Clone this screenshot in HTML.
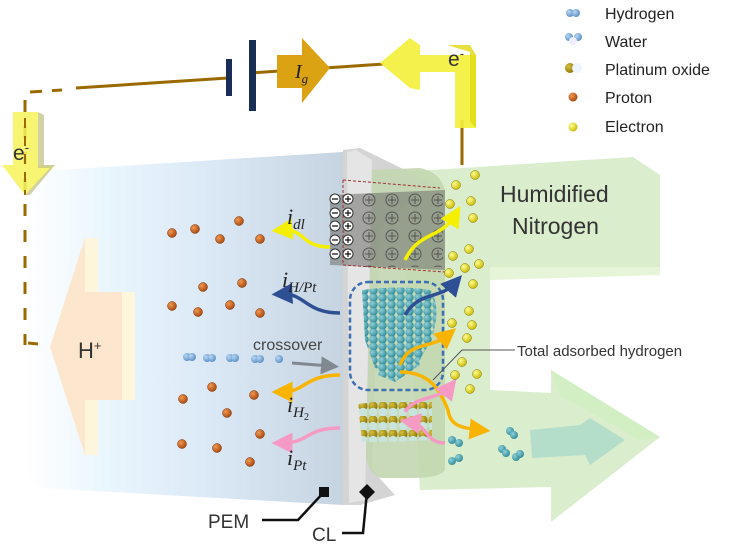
<!DOCTYPE html>
<html><head><meta charset="utf-8"><style>
html,body{margin:0;padding:0;background:#fff;}
svg{display:block;font-family:"Liberation Sans",sans-serif;}
</style></head><body>
<svg width="736" height="545" viewBox="0 0 736 545" xmlns="http://www.w3.org/2000/svg">
<defs>
<linearGradient id="pem" x1="0" x2="1" y1="0" y2="0">
<stop offset="0" stop-color="#ffffff"/><stop offset="0.25" stop-color="#eaf6fd"/><stop offset="0.6" stop-color="#dae8f6"/><stop offset="1" stop-color="#c6d3e0"/></linearGradient>
<radialGradient id="pr" cx="0.35" cy="0.35" r="0.7"><stop offset="0" stop-color="#f09a50"/><stop offset="1" stop-color="#a8450e"/></radialGradient>
<radialGradient id="el" cx="0.35" cy="0.35" r="0.7"><stop offset="0" stop-color="#ffff90"/><stop offset="1" stop-color="#c8b800"/></radialGradient>
<radialGradient id="tl" cx="0.35" cy="0.35" r="0.7"><stop offset="0" stop-color="#8fd0d8"/><stop offset="1" stop-color="#2f8a98"/></radialGradient>
<radialGradient id="bl" cx="0.35" cy="0.35" r="0.7"><stop offset="0" stop-color="#b8d8f4"/><stop offset="1" stop-color="#5a8ec4"/></radialGradient>
<radialGradient id="au" cx="0.35" cy="0.35" r="0.7"><stop offset="0" stop-color="#d8c040"/><stop offset="1" stop-color="#8a7400"/></radialGradient>
<pattern id="teal" width="9" height="7" patternUnits="userSpaceOnUse">
<circle cx="4.5" cy="3.5" r="4.2" fill="url(#tl)"/></pattern>
<pattern id="ptox" width="10" height="14" patternUnits="userSpaceOnUse" x="358" y="402">
<circle cx="5" cy="4" r="4.6" fill="url(#au)"/><circle cx="5" cy="10" r="4.3" fill="#c8e4dc"/></pattern>
<pattern id="plus" width="23" height="18" patternUnits="userSpaceOnUse" x="358" y="191">
<circle cx="11" cy="9" r="6" fill="none" stroke="#555" stroke-width="1"/><path d="M7 9h8M11 5v8" stroke="#555" stroke-width="1"/></pattern>
<marker id="ay" markerWidth="6" markerHeight="6" refX="3" refY="3" orient="auto" markerUnits="strokeWidth"><path d="M0 0L6 3L0 6Z" fill="#f5f000"/></marker>
<marker id="ab" markerWidth="6" markerHeight="6" refX="3" refY="3" orient="auto" markerUnits="strokeWidth"><path d="M0 0L6 3L0 6Z" fill="#2e4f94"/></marker>
<marker id="ao" markerWidth="6" markerHeight="6" refX="3" refY="3" orient="auto" markerUnits="strokeWidth"><path d="M0 0L6 3L0 6Z" fill="#f8b400"/></marker>
<marker id="ap" markerWidth="6" markerHeight="6" refX="3" refY="3" orient="auto" markerUnits="strokeWidth"><path d="M0 0L6 3L0 6Z" fill="#f59ac4"/></marker>
<marker id="ag" markerWidth="6" markerHeight="6" refX="3" refY="3" orient="auto" markerUnits="strokeWidth"><path d="M0 0L6 3L0 6Z" fill="#808890"/></marker>
</defs>

<polygon points="25,172 343,152 343,505 40,488 25,470" fill="url(#pem)"/>
<polygon points="50,347 85,238 98,238 98,292 135,292 135,400 98,400 98,455 85,455" fill="#fff5d8" opacity="0.9"/>
<polygon points="50,347 85,238 85,292 122,292 122,400 85,400 85,455" fill="#fde4cc" opacity="0.9"/>
<text x="78" y="358" font-size="22" fill="#333">H<tspan font-size="13" dy="-8">+</tspan></text>

<polygon points="400,172 633,157 660,175 660,267 490,272 490,390 551,393 551,370 660,437 551,522 551,487 420,490" fill="#d6ebc8" opacity="0.9"/>
<polygon points="490,267 660,267 660,275 490,280" fill="#e6f4d8"/>
<polygon points="551,370 660,437 640,440 560,395" fill="#cfeec0" opacity="0.8"/>
<polygon points="530,430 580,425 590,418 625,440 590,465 585,455 532,458" fill="#8fd0c8" opacity="0.5"/>

<polygon points="343,150 360,148 395,165 430,182 380,230 372,470 395,495 360,505 343,505" fill="#d4d4d4"/>
<polygon points="347,152 356,150 372,160 365,500 349,503" fill="#e8e8e8" opacity="0.8"/>
<path d="M372,170 L420,168 Q440,172 445,190 L445,470 Q440,478 410,478 L380,478 Q365,470 366,450 Z" fill="#c2d6b0" opacity="0.9"/>

<polygon points="330,195 445,190 445,270 330,265" fill="#6e706a" opacity="0.55"/>
<rect x="358" y="191" width="85" height="76" fill="url(#plus)"/>
<polyline points="343,180 343,265 445,272" fill="none" stroke="#a03030" stroke-width="1" stroke-dasharray="3,2"/>
<polyline points="343,180 440,188" fill="none" stroke="#a03030" stroke-width="1" stroke-dasharray="3,2"/>
<g>
<circle cx="335" cy="199" r="5" fill="#fff" stroke="#333"/><circle cx="348" cy="199" r="5" fill="#fff" stroke="#333"/>
<circle cx="335" cy="213" r="5" fill="#fff" stroke="#333"/><circle cx="348" cy="213" r="5" fill="#fff" stroke="#333"/>
<circle cx="335" cy="226" r="5" fill="#fff" stroke="#333"/><circle cx="348" cy="226" r="5" fill="#fff" stroke="#333"/>
<circle cx="335" cy="240" r="5" fill="#fff" stroke="#333"/><circle cx="348" cy="240" r="5" fill="#fff" stroke="#333"/>
<circle cx="335" cy="254" r="5" fill="#fff" stroke="#333"/><circle cx="348" cy="254" r="5" fill="#fff" stroke="#333"/>
</g>
<g stroke="#111" stroke-width="1.2">
<path d="M332 199h6M332 213h6M332 226h6M332 240h6M332 254h6"/>
<path d="M345 199h6M348 196v6M345 213h6M348 210v6M345 226h6M348 223v6M345 240h6M348 237v6M345 254h6M348 251v6"/>
</g>

<path d="M362,290 Q400,285 430,290 Q438,300 436,320 L432,340 Q425,350 420,360 L400,372 L375,368 L365,340 Z" fill="url(#teal)"/>
<path d="M380,350 L412,345 L420,365 L395,382 L378,375 Z" fill="url(#teal)"/>
<rect x="350" y="282" width="93" height="108" rx="18" fill="none" stroke="#3c6fb4" stroke-width="2.5" stroke-dasharray="5,3"/>
<path d="M358,404 Q400,398 432,402 L432,440 Q400,442 362,442 Z" fill="url(#ptox)"/>

<path d="M330,247 C300,247 305,228 282,230" fill="none" stroke="#f5f000" stroke-width="3.5" marker-end="url(#ay)"/>
<path d="M405,260 C420,230 440,240 455,215" fill="none" stroke="#f5f000" stroke-width="3.5" marker-end="url(#ay)"/>
<path d="M340,313 C305,313 305,293 282,294" fill="none" stroke="#2e4f94" stroke-width="3.5" marker-end="url(#ab)"/>
<path d="M405,315 C420,290 440,300 455,283" fill="none" stroke="#2e4f94" stroke-width="3.5" marker-end="url(#ab)"/>
<path d="M292,363 L330,366" fill="none" stroke="#808890" stroke-width="3" marker-end="url(#ag)"/>
<path d="M340,375 C305,375 305,392 282,392" fill="none" stroke="#f8b400" stroke-width="3.5" marker-end="url(#ao)"/>
<path d="M400,365 C410,340 430,350 448,335" fill="none" stroke="#f8b400" stroke-width="3.5" marker-end="url(#ao)"/>
<path d="M400,372 C430,372 440,390 448,410 C450,425 460,428 480,430" fill="none" stroke="#f8b400" stroke-width="3.5" marker-end="url(#ao)"/>
<path d="M340,428 C305,428 310,443 282,443" fill="none" stroke="#f59ac4" stroke-width="3.5" marker-end="url(#ap)"/>
<path d="M405,412 C415,395 440,400 450,387" fill="none" stroke="#f59ac4" stroke-width="3.5" marker-end="url(#ap)"/>
<path d="M445,443 C425,443 428,425 410,422" fill="none" stroke="#f59ac4" stroke-width="3.5" marker-end="url(#ap)"/>

<g font-family="'Liberation Serif',serif" font-style="italic" fill="#222">
<text x="287" y="224" font-size="22">i<tspan font-size="15" dy="5">dl</tspan></text>
<text x="282" y="287" font-size="22">i<tspan font-size="15" dy="5">H/Pt</tspan></text>
<text x="287" y="412" font-size="22">i<tspan font-size="15" dy="5">H</tspan><tspan font-size="10" dy="3" font-style="normal">2</tspan></text>
<text x="287" y="465" font-size="22">i<tspan font-size="15" dy="5">Pt</tspan></text>
</g>
<text x="253" y="350" font-size="16" fill="#444">crossover</text>

<g fill="url(#bl)">
<circle cx="187" cy="357" r="4"/><circle cx="192" cy="357" r="4"/>
<circle cx="207" cy="358" r="4"/><circle cx="212" cy="358" r="4"/>
<circle cx="230" cy="358" r="4"/><circle cx="235" cy="358" r="4"/>
<circle cx="255" cy="359" r="4"/><circle cx="260" cy="359" r="4"/>
<circle cx="279" cy="359" r="4"/>
</g>

<g fill="url(#pr)" stroke="#7a3000" stroke-width="0.5">
<circle cx="172" cy="233" r="4.5"/><circle cx="195" cy="229" r="4.5"/><circle cx="239" cy="221" r="4.5"/><circle cx="220" cy="239" r="4.5"/><circle cx="260" cy="239" r="4.5"/>
<circle cx="203" cy="287" r="4.5"/><circle cx="242" cy="283" r="4.5"/><circle cx="172" cy="306" r="4.5"/><circle cx="198" cy="312" r="4.5"/><circle cx="230" cy="305" r="4.5"/><circle cx="260" cy="313" r="4.5"/>
<circle cx="212" cy="387" r="4.5"/><circle cx="183" cy="399" r="4.5"/><circle cx="254" cy="395" r="4.5"/><circle cx="227" cy="413" r="4.5"/>
<circle cx="260" cy="434" r="4.5"/><circle cx="182" cy="444" r="4.5"/><circle cx="217" cy="448" r="4.5"/><circle cx="250" cy="462" r="4.5"/>
</g>
<g fill="url(#el)" stroke="#8a7a00" stroke-width="0.5">
<circle cx="475" cy="175" r="4.5"/><circle cx="456" cy="185" r="4.5"/><circle cx="450" cy="204" r="4.5"/><circle cx="471" cy="201" r="4.5"/><circle cx="473" cy="218" r="4.5"/>
<circle cx="469" cy="249" r="4.5"/><circle cx="453" cy="256" r="4.5"/><circle cx="465" cy="268" r="4.5"/><circle cx="479" cy="264" r="4.5"/><circle cx="449" cy="273" r="4.5"/><circle cx="473" cy="284" r="4.5"/>
<circle cx="469" cy="311" r="4.5"/><circle cx="452" cy="323" r="4.5"/><circle cx="472" cy="325" r="4.5"/><circle cx="467" cy="338" r="4.5"/>
<circle cx="462" cy="362" r="4.5"/><circle cx="455" cy="375" r="4.5"/><circle cx="477" cy="374" r="4.5"/><circle cx="470" cy="389" r="4.5"/>
</g>
<g fill="url(#tl)">
<circle cx="452" cy="440" r="4"/><circle cx="459" cy="443" r="4"/><circle cx="452" cy="461" r="4"/><circle cx="459" cy="458" r="4"/>
<circle cx="510" cy="431" r="4"/><circle cx="514" cy="435" r="4"/><circle cx="502" cy="449" r="4"/><circle cx="506" cy="453" r="4"/><circle cx="516" cy="457" r="4"/><circle cx="520" cy="454" r="4"/>
</g>

<polyline points="433,380 462,350 515,350" fill="none" stroke="#555" stroke-width="1"/>
<text x="517" y="356" font-size="15" fill="#333">Total adsorbed hydrogen</text>
<text x="500" y="202" font-size="23" fill="#333">Humidified</text>
<text x="512" y="234" font-size="23" fill="#333">Nitrogen</text>

<line x1="76" y1="88" x2="228" y2="78" stroke="#9a6a00" stroke-width="3"/>
<line x1="30" y1="92" x2="62" y2="90" stroke="#9a6a00" stroke-width="3" stroke-dasharray="12,10"/>
<line x1="25" y1="100" x2="25" y2="345" stroke="#9a6a00" stroke-width="3" stroke-dasharray="12,14"/>
<line x1="28" y1="343" x2="38" y2="344" stroke="#9a6a00" stroke-width="3"/>
<line x1="250" y1="73" x2="383" y2="64" stroke="#9a6a00" stroke-width="3"/>
<line x1="462" y1="120" x2="462" y2="165" stroke="#9a6a00" stroke-width="3"/>
<rect x="226" y="59" width="6" height="37" fill="#1a2e55"/>
<rect x="249" y="40" width="7" height="71" fill="#1a2e55"/>
<polygon points="277,55 302,55 302,38 330,68 302,103 302,88 277,88" fill="#dba313"/>
<text x="295" y="78" font-family="'Liberation Serif',serif" font-style="italic" font-size="20" fill="#222">I<tspan font-size="13" dy="5">g</tspan></text>
<polygon points="380,63 410,38 420,45 420,55 476,55 476,128 455,128 455,72 420,72 420,90 410,88" fill="#f3ef3a" opacity="0.9"/>
<polygon points="447,45 470,45 476,55 476,128 470,122 470,52" fill="#e0da10" opacity="0.8"/>
<text x="448" y="66" font-size="21" fill="#333">e<tspan font-size="13" dy="-8">-</tspan></text>
<polygon points="13,112 38,112 38,165 55,165 25,195 2,165 13,165" fill="#f7f35a" opacity="0.85"/>
<polygon points="38,112 44,115 44,165 55,165 30,195 25,195 50,168 38,168" fill="#c8c690" opacity="0.8"/>
<line x1="25" y1="100" x2="25" y2="195" stroke="#9a6a00" stroke-width="2" stroke-dasharray="10,8"/>
<text x="13" y="160" font-size="21" fill="#333">e<tspan font-size="13" dy="-8">-</tspan></text>

<g>
<circle cx="570" cy="13" r="4" fill="url(#bl)"/><circle cx="576" cy="13" r="4" fill="url(#bl)"/>
<circle cx="569" cy="37" r="4" fill="url(#bl)"/><circle cx="578" cy="37" r="4" fill="url(#bl)"/><circle cx="573" cy="41" r="4" fill="#eef"/>
<circle cx="570" cy="68" r="5" fill="url(#au)"/><circle cx="577" cy="68" r="5" fill="#eef4ff"/>
<circle cx="573" cy="97" r="4.5" fill="url(#pr)"/>
<circle cx="573" cy="127" r="4.5" fill="url(#el)"/>
</g>
<g font-size="16" fill="#222">
<text x="605" y="19">Hydrogen</text>
<text x="605" y="47">Water</text>
<text x="605" y="75">Platinum oxide</text>
<text x="605" y="103">Proton</text>
<text x="605" y="132">Electron</text>
</g>

<rect x="319" y="487" width="10" height="10" fill="#111"/>
<polyline points="324,492 298,520 262,520" fill="none" stroke="#111" stroke-width="2.5"/>
<polygon points="367,484 375,492 367,500 359,492" fill="#111"/>
<polyline points="367,492 363,533 342,533" fill="none" stroke="#111" stroke-width="2.5"/>
<text x="208" y="528" font-size="19" fill="#333">PEM</text>
<text x="312" y="541" font-size="19" fill="#333">CL</text>
</svg>
</body></html>
